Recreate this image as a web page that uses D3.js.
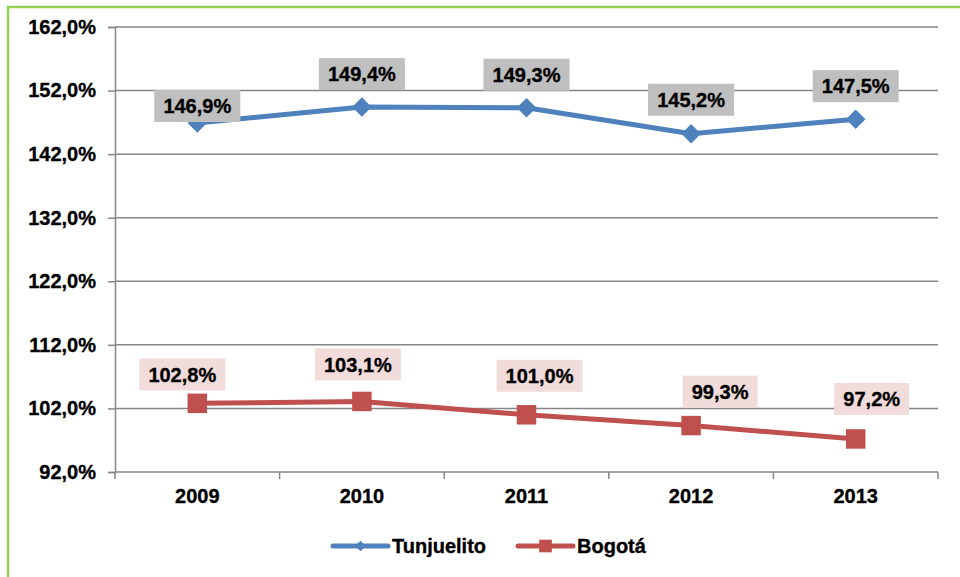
<!DOCTYPE html>
<html>
<head>
<meta charset="utf-8">
<script src="https://cdn.jsdelivr.net/npm/d3@7"></script>
<style>
  body { margin: 0; background: #fff; }
  text { font-family: "Liberation Sans", Arial, sans-serif; font-weight: bold; stroke: #000; stroke-width: 0.35px; }
</style>
</head>
<body>
<script>
// data
var years = ["2009", "2010", "2011", "2012", "2013"];
var tunjuelito = [146.9, 149.4, 149.3, 145.2, 147.5];
var bogota = [102.8, 103.1, 101.0, 99.3, 97.2];
var yTicks = [92, 102, 112, 122, 132, 142, 152, 162];

// label nudges (box centre relative to the point)
var tunjNudge = [[0, -17], [0, -33], [0, -33], [0, -34], [0, -33]];
var bogNudge = [[-15, -29], [-4, -37], [13, -39], [29, -34], [16, -40]];

var W = 960, H = 577;
var margin = {top: 27, right: 22, bottom: 105, left: 115};

var svg = d3.select("body").append("svg")
            .attr("width", W)
            .attr("height", H);

// green frame
svg.append("path")
   .attr("d", "M8," + H + " V7 H" + W)
   .attr("fill", "none")
   .attr("stroke", "#92d050")
   .attr("stroke-width", 2.5);

var x = d3.scaleBand()
          .domain(years)
          .range([margin.left, W - margin.right])
          .padding(0);
var y = d3.scaleLinear()
          .domain([92, 162])
          .range([H - margin.bottom, margin.top]);

var fmt = function(v) { return d3.format(".1f")(v).replace(".", ",") + "%"; };

// gridlines
svg.append("g").selectAll("line")
   .data(yTicks.slice(1))
   .enter().append("line")
   .attr("x1", margin.left).attr("x2", W - margin.right)
   .attr("y1", function(d) { return y(d); })
   .attr("y2", function(d) { return y(d); })
   .attr("stroke", "#868686")
   .attr("stroke-width", 1.5);

// y axis
var yAxis = svg.append("g")
   .attr("transform", "translate(" + margin.left + ",0)")
   .call(d3.axisLeft(y).tickValues(yTicks).tickSize(7).tickPadding(12).tickFormat(fmt));
yAxis.select(".domain").attr("stroke", "#868686").attr("stroke-width", 1.5);
yAxis.selectAll(".tick line").attr("stroke", "#868686").attr("stroke-width", 1.5);
yAxis.selectAll("text").attr("font-size", 20).attr("fill", "#000")
     .style("font-family", "'Liberation Sans', Arial, sans-serif");

// x axis
var xAxis = svg.append("g")
   .attr("transform", "translate(0," + y(92) + ")")
   .call(d3.axisBottom(x).tickSize(0).tickPadding(17));
xAxis.select(".domain").remove();
xAxis.selectAll("text").attr("font-size", 20).attr("fill", "#000")
     .style("font-family", "'Liberation Sans', Arial, sans-serif");
svg.append("line")
   .attr("x1", margin.left).attr("x2", W - margin.right)
   .attr("y1", y(92)).attr("y2", y(92))
   .attr("stroke", "#868686").attr("stroke-width", 1.5);
var edges = years.map(function(d) { return x(d); }).concat([x.range()[1]]);
svg.append("g").selectAll("line")
   .data(edges)
   .enter().append("line")
   .attr("x1", function(d) { return d; }).attr("x2", function(d) { return d; })
   .attr("y1", y(92)).attr("y2", y(92) + 7)
   .attr("stroke", "#868686").attr("stroke-width", 1.5);

var cx = function(i) { return x(years[i]) + x.bandwidth() / 2; };

var series = [
  {name: "Tunjuelito", values: tunjuelito, color: "#4f81bd", rot: 45, size: 190, box: "#bfbfbf", nudge: tunjNudge},
  {name: "Bogotá", values: bogota, color: "#c0504d", rot: 0, size: 380, box: "#f2dcdb", nudge: bogNudge}
];

var line = d3.line()
             .x(function(d, i) { return cx(i); })
             .y(function(d) { return y(d); });

series.forEach(function(s) {
  svg.append("path")
     .datum(s.values)
     .attr("d", line)
     .attr("fill", "none")
     .attr("stroke", s.color)
     .attr("stroke-width", 5)
     .attr("stroke-linejoin", "round");
  svg.append("g").selectAll("path")
     .data(s.values)
     .enter().append("path")
     .attr("d", d3.symbol().type(d3.symbolSquare).size(s.size))
     .attr("transform", function(d, i) { return "translate(" + cx(i) + "," + y(d) + ") rotate(" + s.rot + ")"; })
     .attr("fill", s.color);
});

// data labels
series.forEach(function(s) {
  var g = svg.append("g").selectAll("g")
     .data(s.values)
     .enter().append("g")
     .attr("transform", function(d, i) {
        return "translate(" + (cx(i) + s.nudge[i][0]) + "," + (y(d) + s.nudge[i][1]) + ")";
     });
  g.append("rect").attr("fill", s.box);
  var texts = g.append("text")
     .attr("text-anchor", "middle")
     .attr("dy", "0.36em")
     .attr("font-size", 20)
     .attr("fill", "#000")
     .text(function(d) { return fmt(d); });
  texts.each(function() {
    var bb = this.getBBox();
    d3.select(this.previousSibling)
      .attr("x", -bb.width / 2 - 9).attr("width", bb.width + 18)
      .attr("y", -16).attr("height", 32);
  });
});

// legend
var legend = [
  {name: "Tunjuelito", color: "#4f81bd", rot: 45, size: 55, x0: 333},
  {name: "Bogotá", color: "#c0504d", rot: 0, size: 160, x0: 518}
];
var ly = 546;
var lg = svg.append("g").selectAll("g")
   .data(legend)
   .enter().append("g")
   .attr("transform", function(d) { return "translate(" + d.x0 + "," + ly + ")"; });
lg.append("line")
  .attr("x1", 0).attr("x2", 55)
  .attr("stroke", function(d) { return d.color; })
  .attr("stroke-width", 5)
  .attr("stroke-linecap", "round");
lg.append("path")
  .attr("d", function(d) { return d3.symbol().type(d3.symbolSquare).size(d.size)(); })
  .attr("transform", function(d) { return "translate(27.5,0) rotate(" + d.rot + ")"; })
  .attr("fill", function(d) { return d.color; });
lg.append("text")
  .attr("x", 59)
  .attr("dy", "0.36em")
  .attr("font-size", 20)
  .attr("fill", "#000")
  .text(function(d) { return d.name; });
</script>
</body>
</html>
